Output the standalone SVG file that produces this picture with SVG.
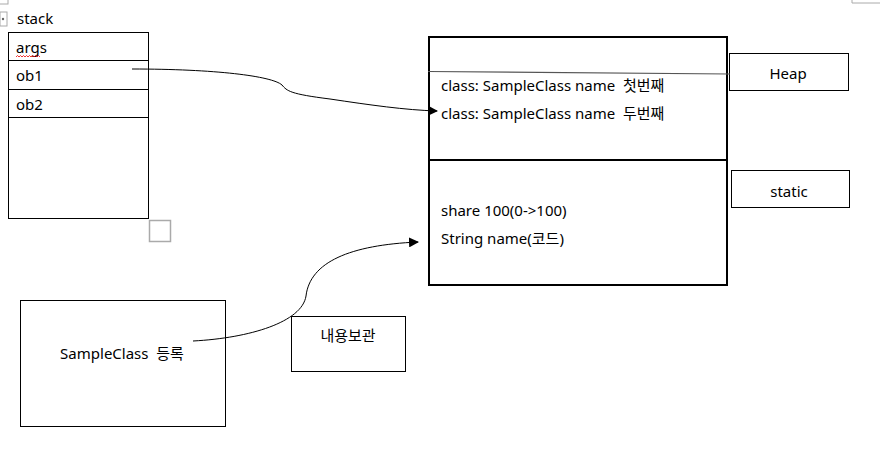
<svg xmlns="http://www.w3.org/2000/svg" width="880" height="451" viewBox="0 0 880 451">
<style>
text{font-family:"Noto Sans","Noto Sans CJK KR",sans-serif;font-size:15px;fill:#000;white-space:pre}
.b{fill:#fff;stroke:#000;stroke-width:1}
.t{fill:none;stroke:#000;stroke-width:2}
.c{fill:none;stroke:#000;stroke-width:1}
.m{text-anchor:middle}
</style>
<defs>
<marker id="ah" markerWidth="10" markerHeight="10" refX="9" refY="5" orient="auto" markerUnits="userSpaceOnUse">
<path d="M0,0 L10,5 L0,10 Z" fill="#000"/>
</marker>
</defs>
<rect width="880" height="451" fill="#fff"/>
<g id="decor" fill="none" stroke="#aaa">
<rect x="-1" y="-4" width="9" height="8"/>
<rect x="0" y="12" width="7" height="14"/>
<circle cx="3" cy="19" r="1.2" fill="#666" stroke="none"/>
<path d="M852,0 V3 H881"/>
<rect x="149.5" y="220.5" width="21" height="21" stroke-width="1.5"/>
</g>
<g id="stack">
<text x="17" y="24">stack</text>
<rect class="b" x="8.5" y="32.5" width="140" height="186"/>
<line class="c" x1="8" y1="60.5" x2="148" y2="60.5"/>
<line class="c" x1="8" y1="89.5" x2="148" y2="89.5"/>
<line class="c" x1="8" y1="117.5" x2="148" y2="117.5"/>
<text x="16" y="53">args</text>
<path d="M16,57 l1.5,-1.5 l1.5,1.5 l1.5,-1.5 l1.5,1.5 l1.5,-1.5 l1.5,1.5 l1.5,-1.5 l1.5,1.5 l1.5,-1.5 l1.5,1.5 l1.5,-1.5 l1.5,1.5 l1.5,-1.5 l1.5,1.5 l1.5,-1.5 l1.5,1.5" fill="none" stroke="#e00" stroke-width="0.8"/>
<text x="16" y="81">ob1</text>
<text x="16" y="110">ob2</text>
</g>
<g id="heap-area">
<rect x="429" y="37" width="298" height="248" class="t"/>
<line x1="428" y1="160" x2="728" y2="160" stroke="#000" stroke-width="2"/>
<text x="441" y="91" xml:space="preserve">class: SampleClass name  첫번째</text>
<text x="441" y="119" xml:space="preserve">class: SampleClass name  두번째</text>
<text x="441" y="216">share 100(0-&gt;100)</text>
<text x="441" y="244">String name(코드)</text>
</g>
<g id="heap-label">
<rect class="b" x="729.5" y="53.5" width="119" height="37"/>
<text class="m" x="788" y="79">Heap</text>
</g>
<g id="static-label">
<rect class="b" x="731.5" y="170.5" width="118" height="37"/>
<text class="m" x="789" y="197">static</text>
</g>
<g id="register">
<rect class="b" x="20.5" y="300.5" width="205" height="126"/>
<text class="m" x="122" y="359" xml:space="preserve">SampleClass  등록</text>
</g>
<g id="keep">
<rect class="b" x="291.5" y="316.5" width="114" height="55"/>
<text class="m" x="348" y="341">내용보관</text>
</g>
<g id="connectors">
<line x1="428" y1="71.5" x2="730" y2="74" stroke="#555" stroke-width="1.2"/>
<path class="c" d="M132,69 C215,69 272,76 282,85 C287,91 290,94 330,99 C370,105 405,110 437,111" marker-end="url(#ah)"/>
<path class="c" d="M193,341 C250,338 302,322 306,296 C310,262 350,245 418,242" marker-end="url(#ah)"/>
</g>
</svg>
